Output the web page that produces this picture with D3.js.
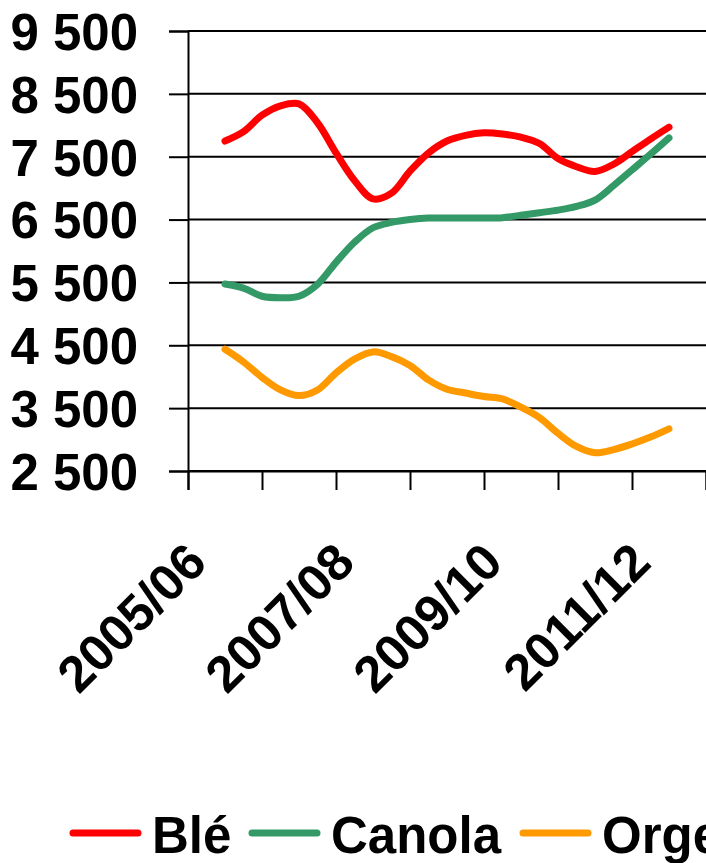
<!DOCTYPE html>
<html>
<head>
<meta charset="utf-8">
<script src="https://cdn.jsdelivr.net/npm/d3@7"></script>
<style>
  html, body { margin: 0; padding: 0; background: #fff; }
  svg text { font-family: "Liberation Sans", Arial, sans-serif; font-weight: bold; }
</style>
</head>
<body>
<script>
width  = 706
height = 863

// campaigns (one band each), only every other one gets a label
var categories = ["2005/06", "2006/07", "2007/08", "2008/09", "2009/10", "2010/11", "2011/12"]
var labelled   = ["2005/06", "2007/08", "2009/10", "2011/12"]
var yTicks     = [2500, 3500, 4500, 5500, 6500, 7500, 8500, 9500]

// quarterly readings, first at the middle of 2005/06, last at the middle of 2011/12
var ble    = [7750, 7900, 8160, 8310, 8340, 8040, 7560, 7120, 6830, 6920, 7270, 7560, 7750,
              7840, 7880, 7860, 7810, 7710, 7470, 7340, 7265, 7380, 7580, 7780, 7970]
var canola = [5475, 5410, 5280, 5255, 5280, 5470, 5820, 6140, 6370, 6455, 6500, 6525, 6525,
              6525, 6525, 6530, 6570, 6610, 6650, 6710, 6810, 7040, 7290, 7540, 7800]
var orge   = [4436, 4235, 3990, 3790, 3700, 3790, 4060, 4280, 4395, 4320, 4180, 3950, 3800,
              3740, 3685, 3646, 3515, 3350, 3100, 2890, 2790, 2840, 2930, 3040, 3170]

var series = [
  {name: "Blé",    values: ble,    color: "#ff0000"},
  {name: "Canola", values: canola, color: "#339966"},
  {name: "Orge",   values: orge,   color: "#ff9900"}
]

var margin = {top: 31, left: 189, right: 0, bottom: 392}

var svg = d3.select("body").append("svg")
  .attr("width", width)
  .attr("height", height)

// x in "category units": 0 = left edge of first band, 7 = right edge of last
var x = d3.scaleLinear()
  .domain([0, categories.length])
  .range([188, width])

var y = d3.scaleLinear()
  .domain([2500, 9500])
  .range([height - margin.bottom, margin.top])

var fmt = d3.formatLocale({decimal: ",", thousands: " ", grouping: [3], currency: ["", ""]}).format(",")

// gridlines
svg.append("g")
  .selectAll("line")
  .data(yTicks)
  .enter().append("line")
    .attr("x1", x(0))
    .attr("x2", width)
    .attr("y1", d => y(d))
    .attr("y2", d => y(d))
    .attr("stroke", "#000")
    .attr("stroke-width", 2)

// y axis
var yAxis = svg.append("g")
  .attr("transform", "translate(" + x(0) + ",0)")
  .call(d3.axisLeft(y).tickValues(yTicks).tickSize(19).tickPadding(31).tickFormat(fmt))
yAxis.select(".domain").attr("stroke", "#000").attr("stroke-width", 2)
yAxis.selectAll(".tick line").attr("stroke", "#000").attr("stroke-width", 2)
yAxis.selectAll(".tick text")
  .attr("font-size", 51)
  .attr("fill", "#000")
  .attr("dy", "0.36em")

// x axis: ticks between the categories
var xAxis = svg.append("g")
  .attr("transform", "translate(0," + y(2500) + ")")
  .call(d3.axisBottom(x).tickValues(d3.range(categories.length + 1)).tickSize(19).tickFormat(""))
xAxis.select(".domain").attr("stroke", "#000").attr("stroke-width", 2)
xAxis.selectAll(".tick line").attr("stroke", "#000").attr("stroke-width", 2)

svg.append("g")
  .selectAll("text")
  .data(labelled)
  .enter().append("text")
    .attr("transform", d => "translate(" + (x(categories.indexOf(d) + 0.5) - 16) + "," + (y(2500) + 94) + ") rotate(-45)")
    .attr("text-anchor", "end")
    .attr("font-size", 51)
    .attr("fill", "#000")
    .text(d => d)

// the three lines
var line = d3.line()
  .x((d, i) => x(0.5 + i / 4))
  .y(d => y(d))
  .curve(d3.curveCatmullRom.alpha(0.5))

svg.append("g")
  .selectAll("path")
  .data(series)
  .enter().append("path")
    .attr("d", d => line(d.values))
    .attr("fill", "none")
    .attr("stroke", d => d.color)
    .attr("stroke-width", 7)
    .attr("stroke-linecap", "round")
    .attr("stroke-linejoin", "round")

// legend (the last label runs past the right edge, as in the original)
var legendX = [73, 252, 523]
var legend = svg.append("g")
  .selectAll("g")
  .data(series)
  .enter().append("g")
    .attr("transform", (d, i) => "translate(" + legendX[i] + ",833)")

legend.append("line")
  .attr("x1", 0)
  .attr("x2", 65)
  .attr("stroke", d => d.color)
  .attr("stroke-width", 7)
  .attr("stroke-linecap", "round")

legend.append("text")
  .attr("x", 79)
  .attr("y", 20)
  .attr("font-size", 51)
  .attr("fill", "#000")
  .text(d => d.name)
</script>
</body>
</html>
